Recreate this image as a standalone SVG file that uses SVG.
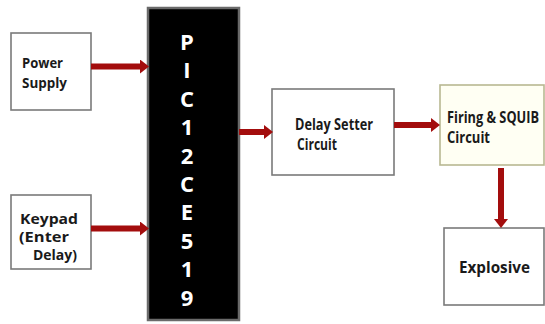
<svg xmlns="http://www.w3.org/2000/svg" width="545" height="324" viewBox="0 0 545 324">
<defs>
<style>
.box{fill:#ffffff;stroke:#7a7a7a;stroke-width:1.6}
.fire{fill:#fffff3;stroke:#b8b892;stroke-width:1.6}
.chip{fill:#000000;stroke:#6a6a6a;stroke-width:2.5}
.t{font-family:"Open Sans","Liberation Sans",sans-serif;font-weight:bold;fill:#1a1a1a}
.s{font-size:15px}
.m{font-size:16px}
.c{font-family:"Open Sans","Liberation Sans",sans-serif;font-weight:bold;fill:#ffffff;font-size:22px;text-anchor:middle}
.a{stroke:#a30d0d;stroke-width:6;fill:none}
</style>
<marker id="ah" markerUnits="userSpaceOnUse" markerWidth="9" markerHeight="14" refX="0" refY="7" orient="auto" viewBox="0 0 9 14">
<path d="M0,0 L9,7 L0,14 z" fill="#a30d0d"/>
</marker>
</defs>
<rect width="545" height="324" fill="#ffffff"/>
<g id="power">
<rect class="box" x="11" y="33" width="80" height="77"/>
<text class="t s" x="22" y="68" textLength="41" lengthAdjust="spacingAndGlyphs">Power</text>
<text class="t s" x="22" y="88" textLength="45" lengthAdjust="spacingAndGlyphs">Supply</text>
</g>
<g id="keypad">
<rect class="box" x="11" y="195" width="80" height="74"/>
<text class="t s" x="20" y="224" textLength="58" lengthAdjust="spacingAndGlyphs">Keypad</text>
<text class="t s" x="19" y="242" textLength="50" lengthAdjust="spacingAndGlyphs">(Enter</text>
<text class="t s" x="33" y="260" textLength="44" lengthAdjust="spacingAndGlyphs">Delay)</text>
</g>
<g id="pic">
<rect class="chip" x="148" y="8" width="91" height="312"/>
<text class="c" x="187" y="50">P</text>
<text class="c" x="187" y="78">I</text>
<text class="c" x="187" y="107">C</text>
<text class="c" x="187" y="135">1</text>
<text class="c" x="187" y="164">2</text>
<text class="c" x="187" y="192">C</text>
<text class="c" x="187" y="220">E</text>
<text class="c" x="187" y="249">5</text>
<text class="c" x="187" y="277">1</text>
<text class="c" x="187" y="306">9</text>
</g>
<g id="delay">
<rect class="box" x="272" y="89" width="122" height="86"/>
<text class="t m" x="295" y="130" textLength="78" lengthAdjust="spacingAndGlyphs">Delay Setter</text>
<text class="t m" x="297" y="150" textLength="40" lengthAdjust="spacingAndGlyphs">Circuit</text>
</g>
<g id="firing">
<rect class="fire" x="440" y="85" width="104" height="80"/>
<text class="t m" x="447" y="123" textLength="92" lengthAdjust="spacingAndGlyphs">Firing &amp; SQUIB</text>
<text class="t m" x="447" y="143" textLength="43" lengthAdjust="spacingAndGlyphs">Circuit</text>
</g>
<g id="explosive">
<rect class="box" x="444" y="228" width="100" height="77"/>
<text class="t m" x="459" y="273" textLength="71" lengthAdjust="spacingAndGlyphs">Explosive</text>
</g>
<g id="connectors">
<line class="a" x1="91" y1="66.5" x2="140" y2="66.5" marker-end="url(#ah)"/>
<line class="a" x1="91" y1="228.5" x2="140" y2="228.5" marker-end="url(#ah)"/>
<line class="a" x1="239" y1="132" x2="264" y2="132" marker-end="url(#ah)"/>
<line class="a" x1="394" y1="125" x2="431" y2="125" marker-end="url(#ah)"/>
<line class="a" x1="501" y1="168" x2="501" y2="219" marker-end="url(#ah)"/>
</g>
</svg>
